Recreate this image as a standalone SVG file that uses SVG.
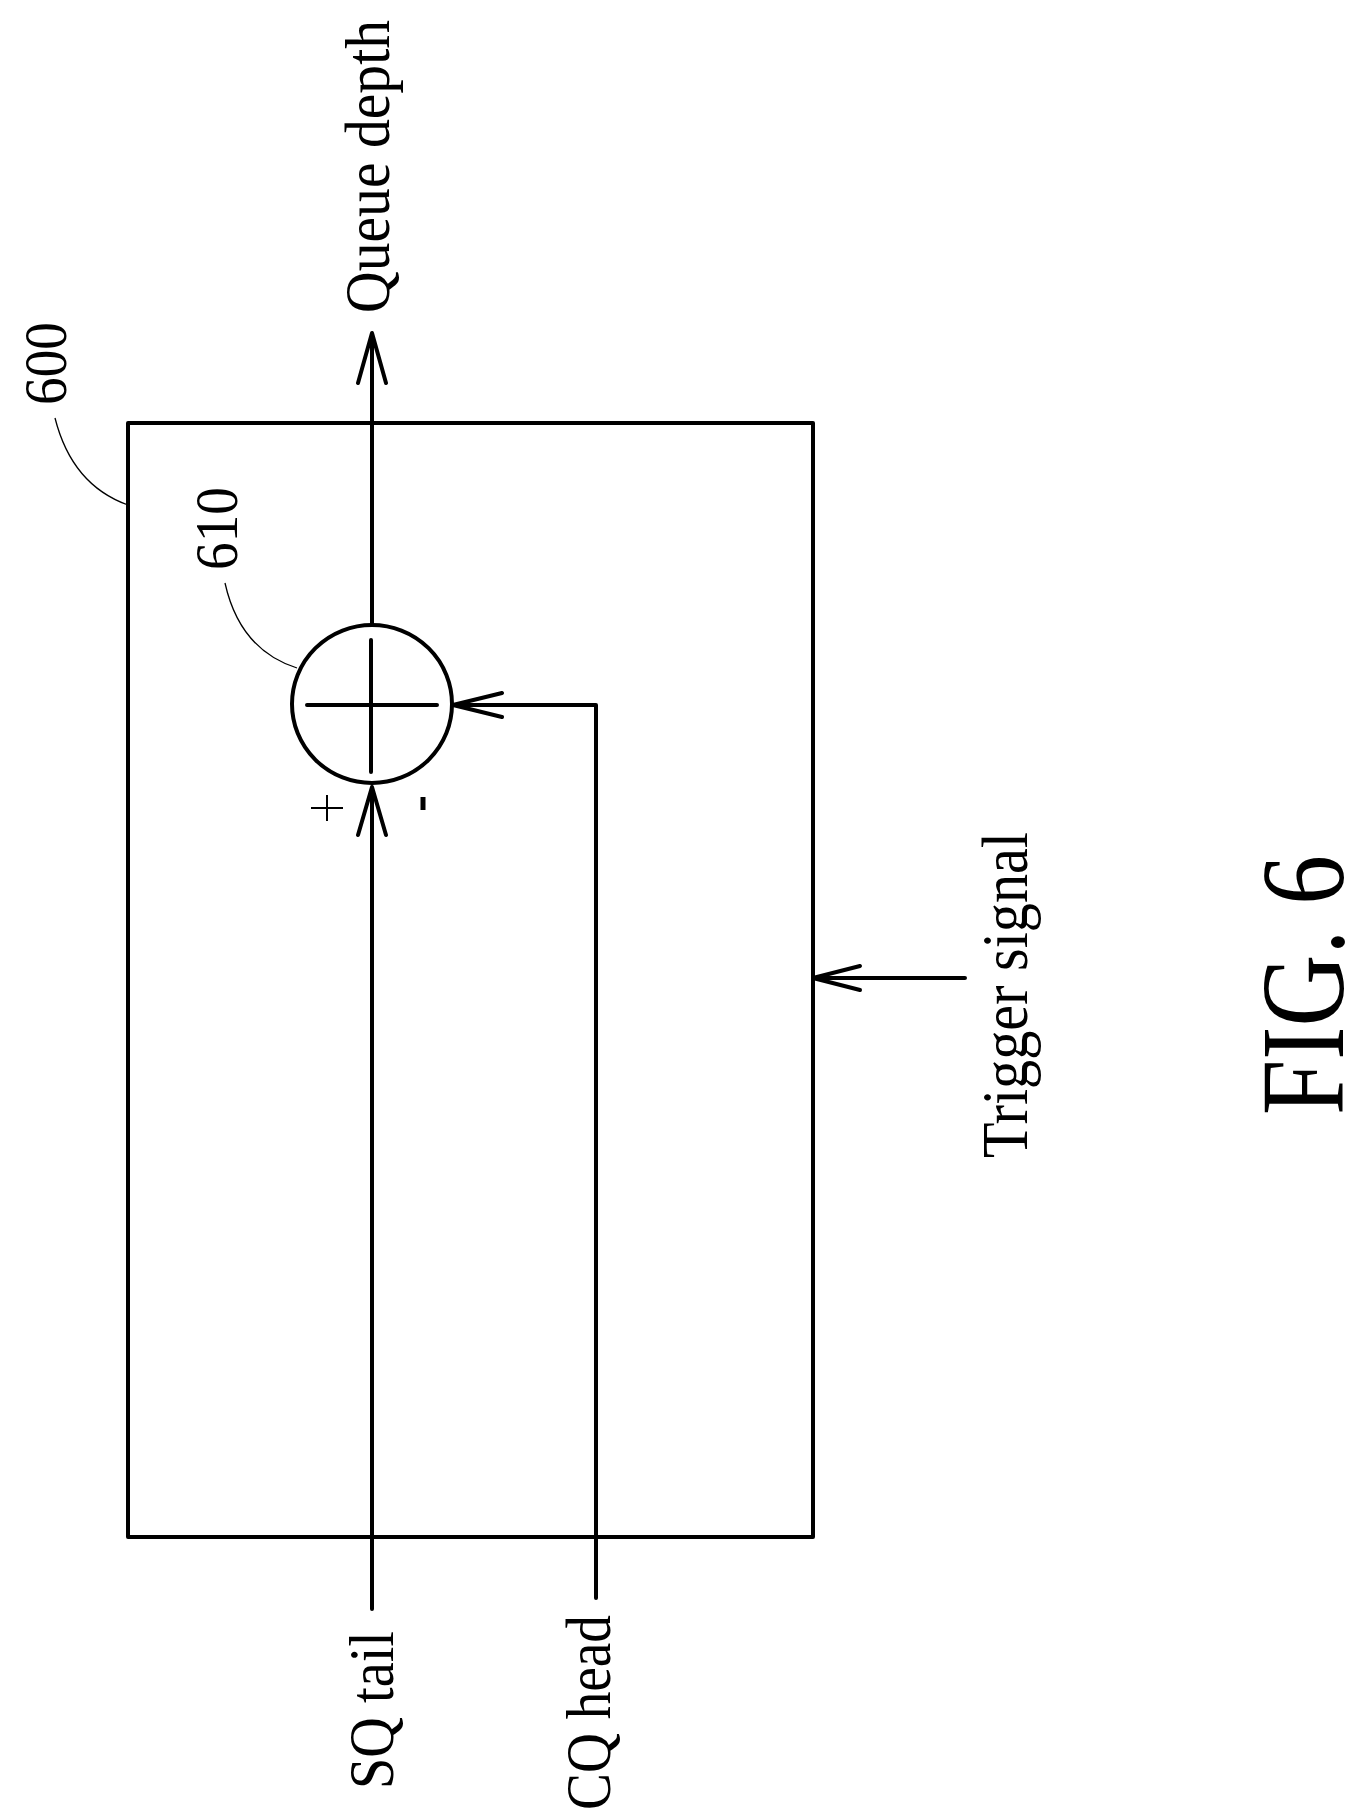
<svg xmlns="http://www.w3.org/2000/svg" width="1365" height="1811" viewBox="0 0 1365 1811">
<style>
.l{fill:none;stroke:#000;stroke-width:4;stroke-linecap:round;stroke-linejoin:round}
.t{fill:none;stroke:#000;stroke-width:1.3}
.tx{font-family:"Liberation Serif",serif;fill:#000}
</style>
<rect width="1365" height="1811" fill="#fff"/>
<g id="block600">
<rect x="128" y="423" width="685" height="1114" class="l"/>
<text class="tx" font-size="62" transform="translate(66,405) rotate(-90)" textLength="83" lengthAdjust="spacingAndGlyphs">600</text>
<path class="t" d="M55,418 Q72,485 128,505"/>
</g>
<g id="sum610">
<ellipse cx="372" cy="704" rx="80" ry="79" class="l"/>
<path class="l" d="M307,705 H437 M371,640 V772"/>
<text class="tx" font-size="62" transform="translate(237,570) rotate(-90)" textLength="83" lengthAdjust="spacingAndGlyphs">610</text>
<path class="t" d="M225,583 Q240,650 297,668"/>
<path d="M311,808 H343 M327,795 V821" stroke="#000" stroke-width="2" fill="none"/>
<path d="M423,797 V810" stroke="#000" stroke-width="5" fill="none"/>
</g>
<g id="connectors">
<path class="l" d="M372,625 V333 M358,383 L372,333 L386,383"/>
<path class="l" d="M372,1609 V787 M358,835 L372,787 L386,835"/>
<path class="l" d="M596,1598 V705 H453 M502,693 L453,705 L502,717"/>
<path class="l" d="M965,978 H813 M860,966 L813,978 L860,990"/>
</g>
<g id="labels">
<text class="tx" font-size="64" transform="translate(389,313) rotate(-90)" textLength="293" lengthAdjust="spacingAndGlyphs">Queue depth</text>
<text class="tx" font-size="64" transform="translate(393,1789) rotate(-90)" textLength="158" lengthAdjust="spacingAndGlyphs">SQ tail</text>
<text class="tx" font-size="64" transform="translate(610,1810) rotate(-90)" textLength="195" lengthAdjust="spacingAndGlyphs">CQ head</text>
<text class="tx" font-size="66" transform="translate(1027,1158) rotate(-90)" textLength="326" lengthAdjust="spacingAndGlyphs">Trigger signal</text>
<text class="tx" font-size="118" transform="translate(1343,1115) rotate(-90)" textLength="260" lengthAdjust="spacingAndGlyphs">FIG. 6</text>
</g>
</svg>
